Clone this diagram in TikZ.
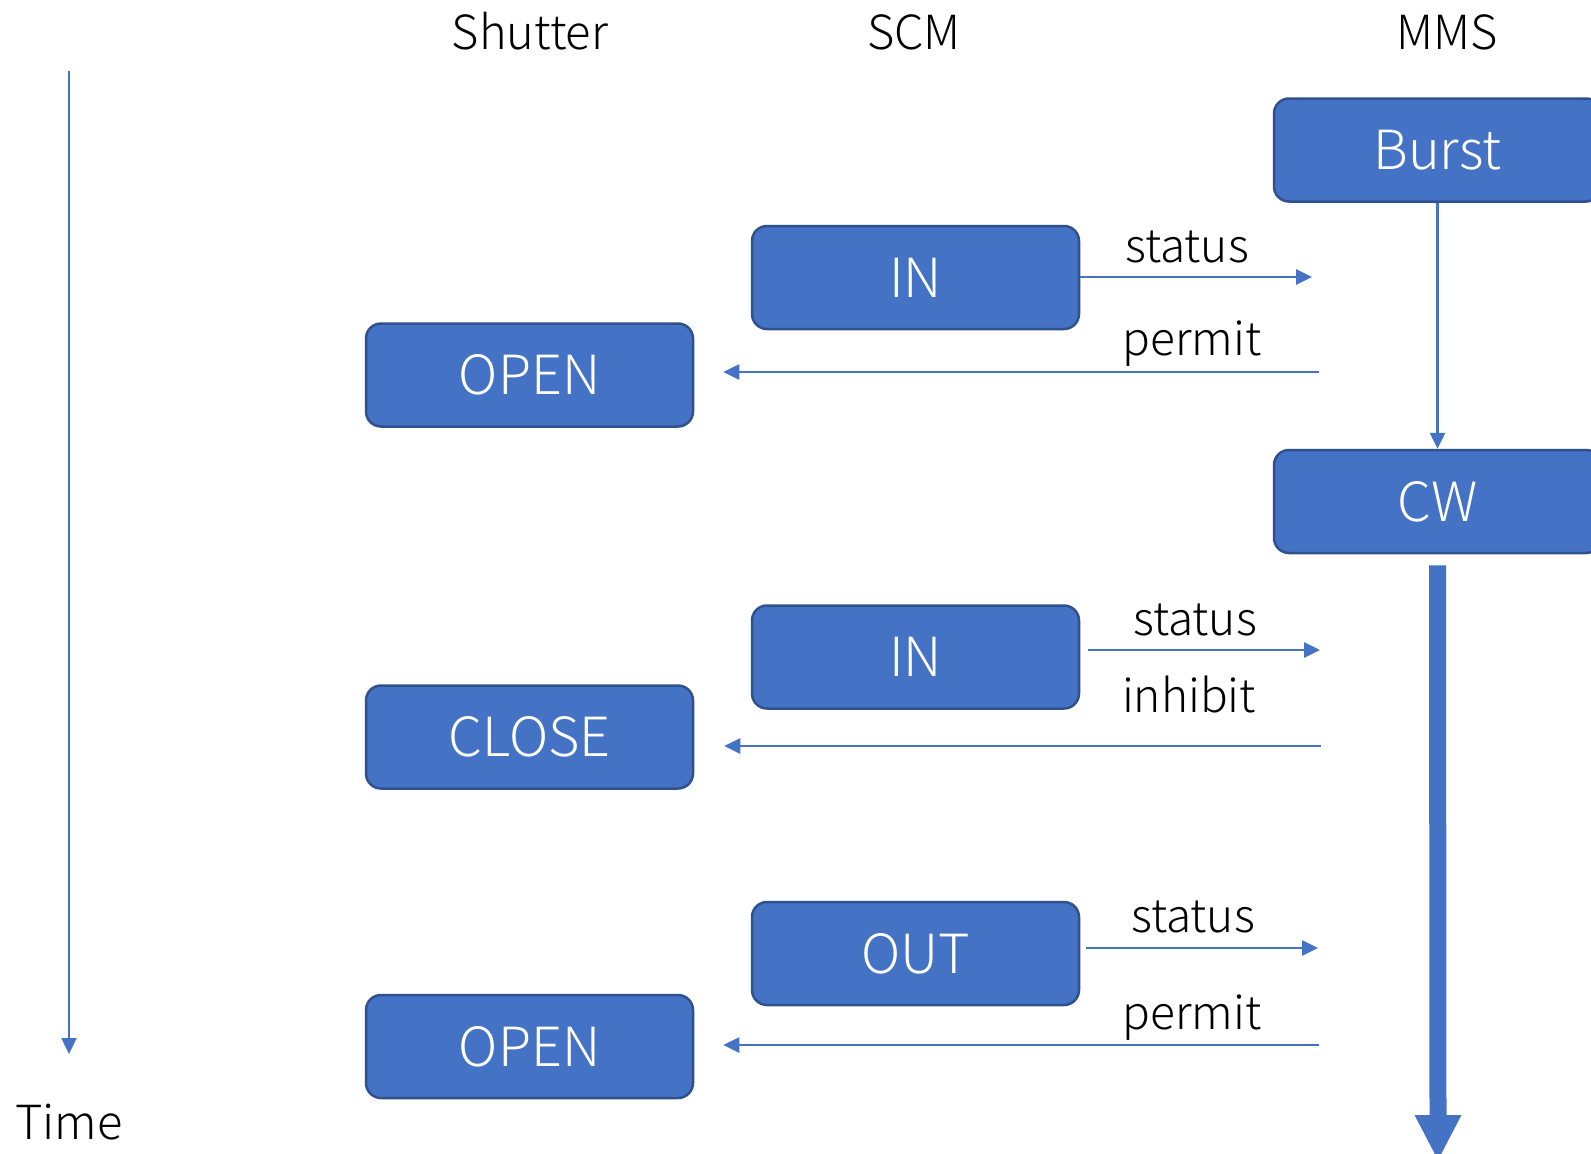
\documentclass[tikz,border=0pt]{standalone}
\usepackage{fontspec}
\IfFontExistsTF{Noto Sans CJK JP Light}
  {\setmainfont{Noto Sans CJK JP Light}}
  {\setmainfont{Noto Sans CJK JP}}
\usetikzlibrary{arrows.meta}
\definecolor{boxfill}{HTML}{4472C4}
\definecolor{boxedge}{HTML}{2F528F}
\tikzset{
  statebox/.style={draw=boxedge, line width=2.5pt, fill=boxfill, rounded corners=15pt,
    minimum width=327pt, minimum height=103pt, inner sep=0pt,
    text=white, font=\fontsize{54}{60}\selectfont},
  header/.style={anchor=base, font=\fontsize{47}{54}\selectfont, inner sep=0pt},
  msglabel/.style={anchor=base, font=\fontsize{46}{54}\selectfont, inner sep=0pt},
  msg/.style={draw=boxfill, line width=2.6pt, -{Triangle[length=16pt, width=15pt]}},
}
\begin{document}
\begin{tikzpicture}[x=1pt, y=-1pt]
  \clip (0,0) rectangle (1591,1154);
  \fill[white] (0,0) rectangle (1591,1154);

  % column headers
  \node[header] (hshutter) at (530,49) {Shutter};
  \node[header] (hscm) at (914,49) {SCM};
  \node[header] (hmms) at (1447,49) {MMS};

  % time axis
  \coordinate (tstart) at (69,71);
  \coordinate (tend) at (69,1054);
  \draw[msg, line width=2.4pt] (tstart) -- (tend);
  \node[header, anchor=base west] (time) at (15,1139) {Time};

  % MMS states
  \node[statebox] (burst) at (1437.5,150) {Burst};
  \node[statebox] (cw) at (1437.5,501.5) {CW};
  \draw[msg] (burst.south) -- (cw.north);

  % wide arrow below CW: shaft and head as one filled outline
  \coordinate (cwend) at (1438,1160);
  \fill[boxfill]
    ([xshift=-8.5pt,yshift=-11pt]cw.south) -- ([xshift=8.5pt,yshift=-11pt]cw.south)
    -- ([xshift=8.5pt,yshift=45pt]cwend) -- ([xshift=23.5pt,yshift=45pt]cwend)
    -- (cwend)
    -- ([xshift=-23.5pt,yshift=45pt]cwend) -- ([xshift=-8.5pt,yshift=45pt]cwend)
    -- cycle;

  % SCM states
  \node[statebox] (in1) at (915.5,277.5) {IN};
  \node[statebox] (in2) at (915.5,657) {IN};
  \node[statebox] (out) at (915.5,953.5) {OUT};

  % shutter states
  \node[statebox] (open1) at (529.5,375) {OPEN};
  \node[statebox] (close) at (529.5,737) {CLOSE};
  \node[statebox] (open2) at (529.5,1046.5) {OPEN};

  % messages
  \coordinate (s1) at (1312,277);
  \coordinate (p1) at (1319,372);
  \coordinate (s2) at (1320,650);
  \coordinate (i2) at (1321,746);
  \coordinate (s3) at (1318,948);
  \coordinate (p3) at (1319,1045);

  \draw[msg] (in1.east |- s1) -- (s1);
  \draw[msg] (p1) -- ([xshift=29pt]open1.east |- p1);
  \draw[msg] ([xshift=8pt]in2.east |- s2) -- (s2);
  \draw[msg] (i2) -- ([xshift=30pt]close.east |- i2);
  \draw[msg] ([xshift=6pt]out.east |- s3) -- (s3);
  \draw[msg] (p3) -- ([xshift=29pt]open2.east |- p3);

  \node[msglabel] (ls1) at (1187,262) {status};
  \node[msglabel] (lp1) at (1192,355) {permit};
  \node[msglabel] (ls2) at (1195,635) {status};
  \node[msglabel] (li2) at (1189,712) {inhibit};
  \node[msglabel] (ls3) at (1193,932) {status};
  \node[msglabel] (lp3) at (1192,1029) {permit};
\end{tikzpicture}
\end{document}
